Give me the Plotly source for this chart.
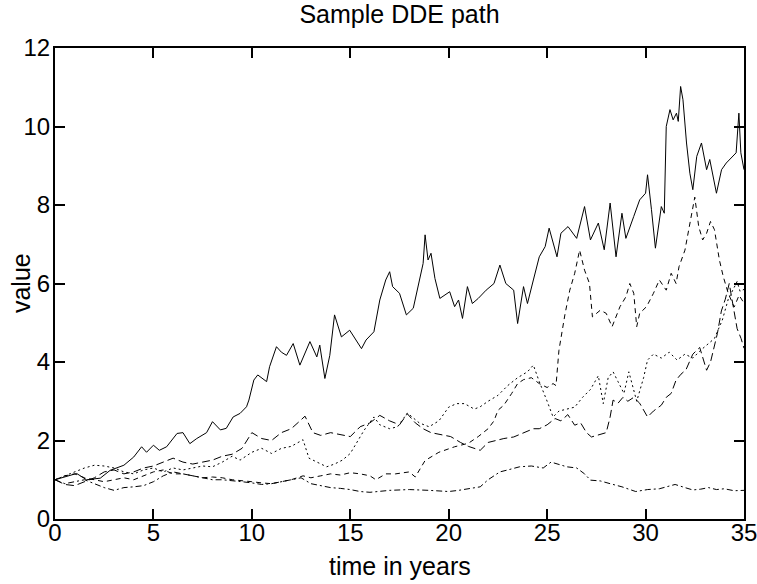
import plotly.graph_objects as go

# ---- data (time in years, value) ----
t_solid = [0, 0.5, 1.1, 1.6, 2.3, 2.8, 3.5, 4.0, 4.4, 4.65,
           5.0, 5.3, 5.67, 6.2, 6.5, 6.85, 7.2, 7.7, 8.0, 8.4,
           8.7, 9.05, 9.4, 9.73, 9.85, 10.1, 10.3, 10.75, 10.9, 11.25,
           11.5, 11.76, 12.1, 12.44, 12.95, 13.3, 13.45, 13.71, 13.96, 14.2,
           14.55, 14.97, 15.3, 15.57, 15.8, 16.2, 16.5, 16.8, 17.0, 17.15,
           17.5, 17.85, 18.2, 18.5, 18.7, 18.8, 18.95, 19.1, 19.3, 19.55,
           19.8, 20.05, 20.3, 20.5, 20.7, 20.95, 21.2, 21.5, 21.9, 22.3,
           22.6, 22.9, 23.3, 23.5, 23.8, 24.0, 24.3, 24.6, 24.9, 25.1,
           25.5, 25.7, 26.06, 26.5, 26.9, 27.2, 27.6, 27.9, 28.2, 28.5,
           28.8, 29.0, 29.4, 29.7, 30.0, 30.1, 30.3, 30.5, 30.8, 30.95,
           31.05, 31.24, 31.4, 31.57, 31.66, 31.78, 31.9, 32.08, 32.25, 32.4,
           32.6, 32.84, 33.1, 33.26, 33.6, 33.86, 34.1, 34.45, 34.6, 34.74,
           34.84, 35.0]
v_solid = [1.0, 1.07, 1.16, 1.0, 1.04, 1.24, 1.37, 1.58, 1.84, 1.7,
           1.88, 1.75, 1.84, 2.18, 2.2, 1.92, 2.05, 2.2, 2.48, 2.27,
           2.31, 2.6, 2.69, 2.86, 3.03, 3.54, 3.67, 3.5, 3.88, 4.39,
           4.25, 4.17, 4.47, 3.92, 4.52, 4.13, 4.43, 3.58, 4.17, 5.2,
           4.64, 4.81, 4.56, 4.34, 4.56, 4.77, 5.58, 6.09, 6.3, 5.92,
           5.75, 5.2, 5.37, 6.09, 6.51, 7.24, 6.6, 6.77, 6.13, 5.62,
           5.7, 5.79, 5.41, 5.58, 5.11, 5.92, 5.49, 5.62, 5.83, 6.0,
           6.47, 6.0, 5.83, 4.98, 5.92, 5.49, 6.09, 6.68, 6.94, 7.41,
           6.68, 7.28, 7.45, 7.15, 7.96, 7.11, 7.54, 6.86, 8.05, 6.68,
           7.79, 7.15, 7.71, 8.13, 8.3, 8.77, 7.88, 6.9, 7.96, 7.79,
           10.0, 10.43, 10.17, 10.34, 10.13, 11.02, 10.68, 9.58, 8.81, 8.39,
           9.24, 9.58, 8.9, 9.16, 8.3, 8.9, 9.07, 9.24, 9.33, 10.34,
           9.33, 8.9]

t_dashed = [0, 0.5, 1.0, 1.5, 2.0, 2.5, 3.0, 3.5, 4.0, 4.5,
            5.0, 5.5, 6.0, 6.5, 7.0, 7.5, 8.0, 8.5, 9.0, 9.5,
            10.0, 10.5, 11.0, 11.5, 12.0, 12.6, 13.0, 13.5, 14.0, 14.5,
            15.0, 15.5, 16.0, 16.3, 16.8, 17.3, 18.0, 18.3, 18.8, 19.5,
            20.3, 21.0, 21.5, 22.0, 22.3, 22.5, 22.8, 23.2, 23.5, 23.8,
            24.2, 24.6, 25.0, 25.3, 25.45, 25.6, 25.9, 26.15, 26.4, 26.65,
            26.9, 27.15, 27.3, 27.7, 28.0, 28.3, 28.7, 29.0, 29.2, 29.4,
            29.55, 29.7, 30.05, 30.4, 30.7, 31.05, 31.3, 31.55, 31.7, 32.0,
            32.2, 32.4, 32.5, 32.7, 32.9, 33.1, 33.3, 33.5, 33.75, 33.95,
            34.2, 34.5, 34.75, 35.0]
v_dashed = [1.0, 1.1, 1.15, 1.05, 1.0, 0.95, 1.0, 1.05, 1.0, 1.1,
            1.2, 1.25, 1.15, 1.15, 1.1, 1.05, 1.07, 1.05, 1.0, 0.98,
            0.95, 0.92, 0.9, 0.95, 1.0, 1.1, 1.05, 1.1, 1.15, 1.12,
            1.18, 1.15, 1.1, 1.0, 1.15, 1.15, 1.2, 1.07, 1.49, 1.7,
            1.84, 1.93, 2.1, 2.3, 2.5, 2.77, 2.9, 3.2, 3.45, 3.55,
            3.6, 3.45, 3.35, 3.45, 3.4, 4.3, 5.2, 5.83, 6.26, 6.85,
            6.34, 6.0, 5.15, 5.32, 5.24, 4.9, 5.41, 5.66, 6.0, 5.75,
            4.9, 5.24, 5.41, 5.75, 6.09, 5.83, 6.26, 6.0, 6.43, 6.85,
            7.37, 7.88, 8.2, 7.45, 7.11, 7.28, 7.58, 7.37, 6.6, 6.17,
            5.75, 5.4, 5.7, 5.5]

t_dotted = [0, 0.5, 1.0, 1.5, 2.0, 2.5, 3.0, 3.5, 4.0, 4.5,
            5.0, 5.5, 6.0, 6.5, 7.0, 7.5, 8.0, 8.5, 9.0, 9.4,
            10.0, 10.5, 11.0, 11.5, 12.0, 12.4, 12.6, 12.9, 13.3, 13.8,
            14.2, 14.6, 15.0, 15.4, 15.7, 16.2, 16.5, 17.0, 17.4, 17.9,
            18.5, 19.0, 19.5, 20.0, 20.4, 20.8, 21.3, 21.6, 22.0, 22.5,
            23.0, 23.5, 24.0, 24.3, 24.6, 25.0, 25.3, 25.6, 26.0, 26.4,
            26.8, 27.2, 27.6, 27.85, 28.1, 28.35, 28.6, 28.9, 29.15, 29.35,
            29.55, 29.9, 30.1, 30.4, 30.8, 31.2, 31.6, 32.0, 32.4, 32.8,
            33.2, 33.5, 33.9, 34.2, 34.5, 34.65, 34.8, 35.0]
v_dotted = [1.0, 1.1, 1.2, 1.3, 1.37, 1.35, 1.3, 1.2, 1.15, 1.25,
            1.3, 1.2, 1.3, 1.25, 1.3, 1.35, 1.33, 1.45, 1.6, 1.5,
            1.7, 1.8, 1.67, 1.8, 1.85, 1.96, 2.02, 1.55, 1.46, 1.33,
            1.4, 1.5, 1.67, 2.0, 2.26, 2.6, 2.4, 2.3, 2.35, 2.7,
            2.45, 2.35, 2.5, 2.85, 2.94, 2.94, 2.8, 2.86, 3.0, 3.15,
            3.4, 3.6, 3.75, 3.92, 3.5, 3.0, 2.6, 2.75, 2.8, 2.85,
            3.1, 3.3, 3.65, 2.94, 3.6, 3.75, 3.5, 3.2, 3.75, 3.4,
            3.0, 3.6, 4.05, 4.2, 4.1, 4.25, 4.05, 4.2, 4.1, 4.3,
            4.48, 4.6, 5.07, 5.6, 5.9, 6.05, 5.8, 5.85]

t_longdash = [0, 0.5, 1.0, 1.5, 2.0, 2.5, 3.0, 3.5, 4.0, 4.5,
              5.0, 5.5, 6.0, 6.5, 7.0, 7.5, 8.0, 8.5, 9.0, 9.5,
              10.0, 10.5, 11.0, 11.5, 12.0, 12.4, 12.7, 13.1, 13.5, 14.0,
              14.5, 15.0, 15.5, 16.0, 16.5, 17.0, 17.5, 17.9, 18.3, 18.7,
              19.1, 19.6, 20.1, 20.6, 21.0, 21.6, 22.0, 22.4, 22.8, 23.3,
              23.8, 24.3, 24.6, 25.0, 25.4, 25.7, 26.05, 26.4, 26.7, 27.0,
              27.25, 27.6, 28.0, 28.2, 28.35, 28.6, 28.85, 29.1, 29.4, 29.7,
              30.1, 30.4, 30.8, 31.05, 31.3, 31.55, 31.8, 32.05, 32.4, 32.75,
              33.1, 33.3, 33.65, 33.85, 34.05, 34.25, 34.45, 34.65, 34.85, 35.0]
v_longdash = [1.0, 0.88, 0.85, 0.95, 1.05, 1.2, 1.25, 1.15, 1.2, 1.3,
              1.35, 1.45, 1.55, 1.45, 1.4, 1.45, 1.5, 1.6, 1.65, 1.8,
              2.2, 2.05, 2.0, 2.2, 2.3, 2.48, 2.62, 2.2, 2.13, 2.2,
              2.15, 2.1, 2.35, 2.45, 2.64, 2.5, 2.4, 2.68, 2.45, 2.3,
              2.2, 2.15, 2.1, 1.95, 1.85, 1.75, 1.95, 2.0, 2.05, 2.09,
              2.2, 2.3, 2.3, 2.4, 2.56, 2.5, 2.66, 2.39, 2.45, 2.2,
              2.09, 2.15, 2.2, 2.6, 3.03, 2.95, 3.1, 3.0, 3.1, 2.95,
              2.6, 2.75, 2.9, 3.1, 3.2, 3.54, 3.69, 3.8, 4.2, 4.37,
              3.79, 4.0, 4.73, 5.3, 5.6, 6.0, 5.4, 4.85, 4.6, 4.35]

t_dashdot = [0, 0.5, 1.0, 1.5, 2.0, 2.5, 3.0, 3.5, 4.0, 4.5,
             5.0, 5.5, 6.0, 6.5, 7.0, 7.5, 8.0, 8.5, 9.0, 9.5,
             10.0, 10.5, 11.0, 11.5, 12.0, 12.5, 13.0, 13.5, 14.0, 14.5,
             15.0, 15.5, 16.0, 17.0, 18.0, 19.0, 20.0, 20.5, 21.1, 21.6,
             22.0, 22.6, 23.0, 23.6, 24.2, 24.8, 25.2, 25.6, 26.0, 26.5,
             26.9, 27.2, 27.7, 28.2, 28.8, 29.5, 30.1, 30.7, 31.1, 31.5,
             32.0, 32.4, 32.8, 33.2, 33.6, 34.0, 34.5, 35.0]
v_dashdot = [1.0, 0.9, 0.95, 1.0, 0.9, 0.8, 0.73, 0.8, 0.82, 0.85,
             0.95, 1.1, 1.2, 1.15, 1.1, 1.05, 1.0, 1.0, 0.98, 0.95,
             0.92, 0.88, 0.9, 0.95, 1.0, 1.05, 0.9, 0.85, 0.8, 0.78,
             0.75, 0.7, 0.68, 0.73, 0.75, 0.73, 0.7, 0.73, 0.78, 0.82,
             1.0, 1.2, 1.25, 1.33, 1.35, 1.3, 1.45, 1.38, 1.33, 1.3,
             1.15, 0.99, 0.97, 0.9, 0.82, 0.7, 0.75, 0.77, 0.82, 0.88,
             0.8, 0.74, 0.76, 0.8, 0.75, 0.77, 0.72, 0.73]

x_ticks = [0, 5, 10, 15, 20, 25, 30, 35]
y_ticks = [0, 2, 4, 6, 8, 10, 12]

FONT = "Liberation Sans, Arial, Helvetica, sans-serif"
TICK_SIZE = 24
LABEL_SIZE = 25
TITLE_SIZE = 25

series = [
    (t_solid, v_solid, "solid"),
    (t_dashed, v_dashed, "5px,4px"),
    (t_dotted, v_dotted, "2px,3px"),
    (t_longdash, v_longdash, "8px,4px"),
    (t_dashdot, v_dashdot, "6px,3px,2px,3px"),
]

fig = go.Figure()
for tt, vv, dash in series:
    n = min(len(tt), len(vv))
    fig.add_trace(go.Scatter(x=tt[:n], y=vv[:n], mode="lines",
                             line=dict(color="black", width=1, dash=dash),
                             showlegend=False, hoverinfo="skip"))

axis_common = dict(
    showline=True, linecolor="black", linewidth=2, mirror="ticks",
    ticks="inside", ticklen=10, tickwidth=1.5, tickcolor="black",
    showgrid=False, zeroline=False, automargin=False,
    ticklabeloverflow="allow",
    tickfont=dict(family=FONT, size=TICK_SIZE, color="black"),
)
fig.update_xaxes(range=[0, 35], tickvals=x_ticks, ticktext=[str(v) for v in x_ticks],
                 ticklabelstandoff=-9, **axis_common)
fig.update_yaxes(range=[0, 12], tickvals=y_ticks, ticktext=[str(v) for v in y_ticks],
                 ticklabelstandoff=-2, **axis_common)

fig.update_layout(
    width=757, height=584,
    margin=dict(l=55, r=13, t=48, b=65),
    paper_bgcolor="white", plot_bgcolor="white",
    title=dict(text="Sample DDE path", xref="paper", x=0.5, xanchor="center",
               y=0.976, yanchor="middle",
               font=dict(family=FONT, size=TITLE_SIZE, color="black")),
    annotations=[
        dict(text="time in years", xref="paper", yref="paper", x=0.5, y=-0.1,
             xanchor="center", yanchor="middle", showarrow=False,
             font=dict(family=FONT, size=LABEL_SIZE, color="black")),
        dict(text="value", xref="paper", yref="paper", x=-0.05, y=0.5,
             xanchor="center", yanchor="middle", textangle=-90, showarrow=False,
             font=dict(family=FONT, size=LABEL_SIZE, color="black")),
    ],
)

fig.write_html("out.html")
